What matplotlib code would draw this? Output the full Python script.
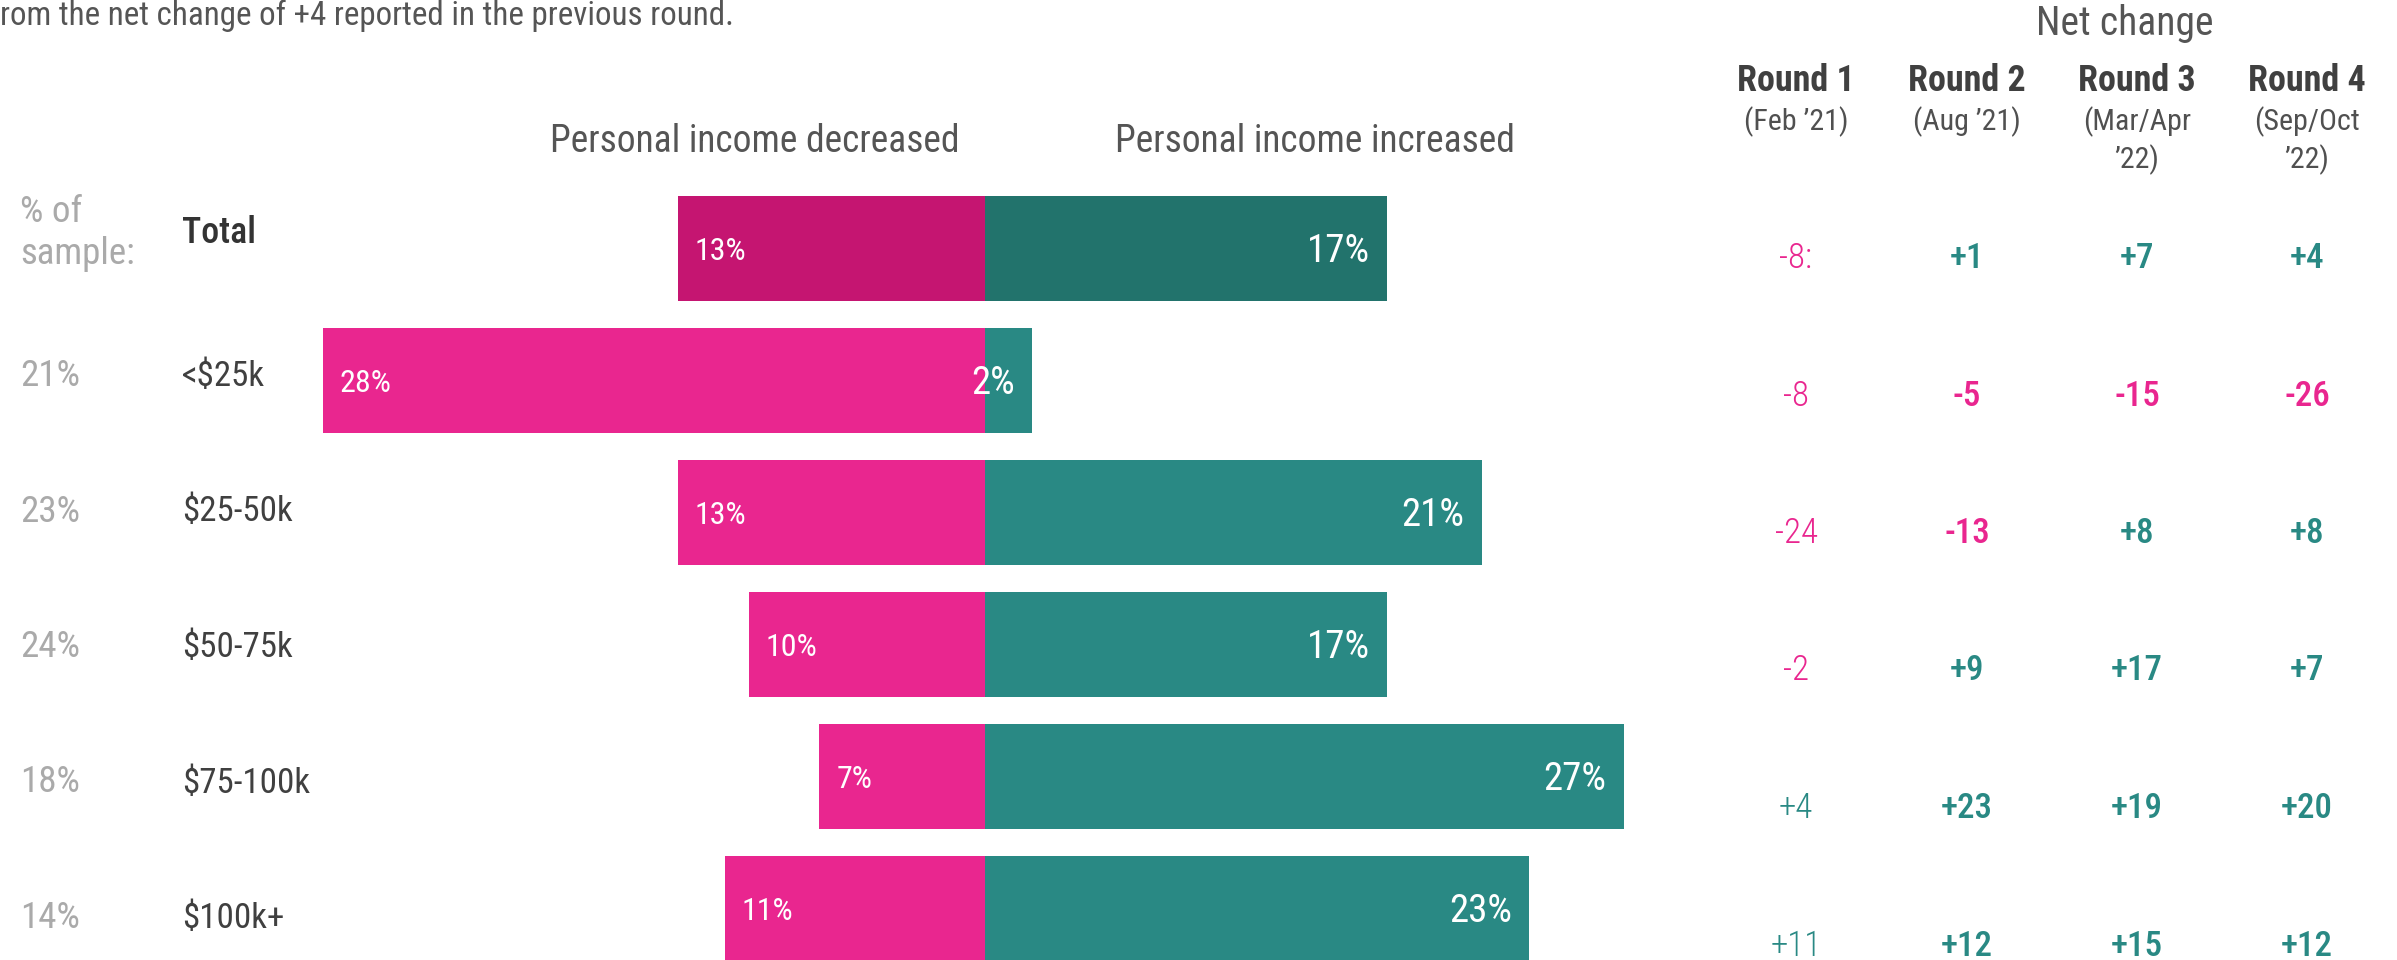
import matplotlib
matplotlib.use('Agg')
import matplotlib.pyplot as plt
from matplotlib import font_manager
from matplotlib.transforms import offset_copy

# income bands and survey shares
categories = ['Total', '<$25k', '$25-50k', '$50-75k', '$75-100k', '$100k+']
sample_share = [None, 21, 23, 24, 18, 14]
decreased = [13, 28, 13, 10, 7, 11]
increased = [17, 2, 21, 17, 27, 23]

# net change (increased minus decreased) per survey round
rounds = ['Round 1', 'Round 2', 'Round 3', 'Round 4']
round_dates = ['(Feb \u201921)', '(Aug \u201921)', '(Mar/Apr\n\u201922)', '(Sep/Oct\n\u201922)']
net_round1 = [-8, -8, -24, -2, 4, 11]
net_round2 = [1, -5, -13, 9, 23, 12]
net_round3 = [7, -15, 8, 17, 19, 15]
net_round4 = [4, -26, 8, 7, 20, 12]

W, H, DPI = 2397, 960, 100
PX_PER_PCT = 23.65
ZERO_X = 985
ROW0_Y = 248.5
ROW_STEP = 132

PINK = '#E9268F'
PINK_DARK = '#C51571'
TEAL = '#298984'
TEAL_DARK = '#22736C'


def pick_font(names):
    installed = {f.name for f in font_manager.fontManager.ttflist}
    for n in names:
        if n in installed:
            return n
    return 'DejaVu Sans'


FONT = pick_font(['Roboto Condensed', 'Liberation Sans Narrow', 'Open Sans Condensed', 'Liberation Sans'])
plt.rcParams['font.family'] = [FONT, 'DejaVu Sans']


def pt(px):
    # em size in pixels -> points
    return px * 72 / DPI


def ftext(x, y, s, **kw):
    # place text by pixel position measured from the top-left corner
    return fig.text(x / W, 1 - y / H, s, **kw)


fig = plt.figure(figsize=(W / DPI, H / DPI), dpi=DPI, facecolor='white')
ax = fig.add_axes([0, 0, 1, 1])
ax.set_xlim(-ZERO_X / PX_PER_PCT, (W - ZERO_X) / PX_PER_PCT)
ax.set_ylim((H - ROW0_Y) / ROW_STEP, -ROW0_Y / ROW_STEP)
ax.axis('off')

rows = list(range(len(categories)))
pink_colors = [PINK_DARK] + [PINK] * (len(rows) - 1)
teal_colors = [TEAL_DARK] + [TEAL] * (len(rows) - 1)

ax.barh(rows, [-d for d in decreased], height=0.8, color=pink_colors, linewidth=0)
ax.barh(rows, increased, height=0.8, color=teal_colors, linewidth=0)

# value labels inside the bars
left_tr = offset_copy(ax.transData, fig, x=17, y=-12, units='dots')
right_tr = offset_copy(ax.transData, fig, x=-17, y=-14, units='dots')
for i in rows:
    ax.text(-decreased[i], i, f'{decreased[i]}%', transform=left_tr, ha='left', va='baseline',
            color='white', fontsize=pt(32))
    ax.text(increased[i], i, f'{increased[i]}%', transform=right_tr, ha='right', va='baseline',
            color='white', fontsize=pt(39))

# top note (continued from the previous line)
ftext(0, 25, 'rom the net change of +4 reported in the previous round.', ha='left', va='baseline',
      color='#555555', fontsize=pt(33))

# column headers over the bars
ftext(959, 152, 'Personal income decreased', ha='right', va='baseline', color='#555555', fontsize=pt(37.5))
ftext(1115, 152, 'Personal income increased', ha='left', va='baseline', color='#555555', fontsize=pt(37.5))

# row labels and sample shares
ftext(20, 222, '% of', ha='left', va='baseline', color='#AAAAAA', fontsize=pt(37))
ftext(20, 264, 'sample:', ha='left', va='baseline', color='#AAAAAA', fontsize=pt(37))
ftext(182, 243, categories[0], ha='left', va='baseline', color='#333333', fontsize=pt(36),
      fontweight='medium')
for i in rows[1:]:
    base = 386 + (i - 1) * 135.5
    ftext(20, base, f'{sample_share[i]}%', ha='left', va='baseline', color='#AAAAAA', fontsize=pt(37))
    ftext(182, base, categories[i], ha='left', va='baseline', color='#404040', fontsize=pt(35))

# net change table
col_x = [1796, 1967, 2137, 2307]
ftext(2125, 35, 'Net change', ha='center', va='baseline', color='#555555', fontsize=pt(39.5))
for j, name in enumerate(rounds):
    ftext(col_x[j], 91, name, ha='center', va='baseline', color='#404040', fontsize=pt(36),
          fontweight='bold')
    for k, line in enumerate(round_dates[j].split('\n')):
        ftext(col_x[j], 130 + k * 38, line, ha='center', va='baseline', color='#505050',
              fontsize=pt(30))

net_cols = [net_round1, net_round2, net_round3, net_round4]
for j, col in enumerate(net_cols):
    for i, v in enumerate(col):
        label = f'{v:+d}'
        if j == 0 and i == 0:
            label += ':'
        ftext(col_x[j], 268 + i * 137.5, label, ha='center', va='baseline',
              color=PINK if v < 0 else TEAL, fontsize=pt(35),
              fontweight='light' if j == 0 else 'medium')

fig.savefig('out.png', dpi=DPI, facecolor='white')
